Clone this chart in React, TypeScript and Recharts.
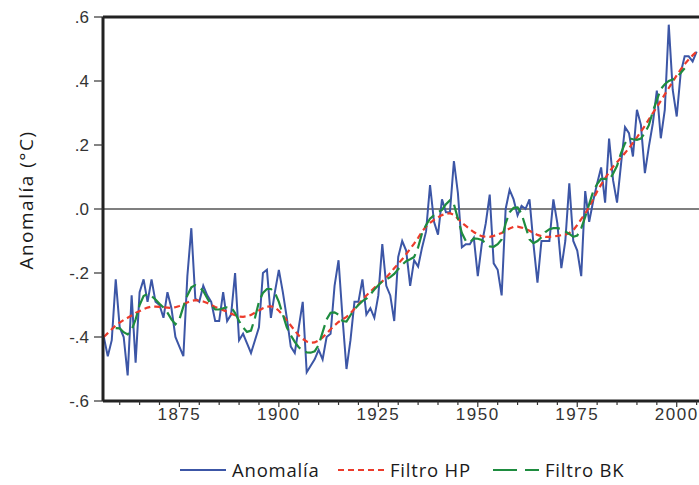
import { LineChart, Line, XAxis, YAxis, ReferenceLine, Legend, Label } from "recharts";

const START_YEAR = 1856;
const BK_START_YEAR = 1859;

// anomalía anual (°C), 1856-2005
const anomalia = [
  -0.40, -0.46, -0.41, -0.22, -0.37, -0.40, -0.52, -0.27, -0.48, -0.26,
  -0.22, -0.29, -0.22, -0.29, -0.30, -0.34, -0.26, -0.31, -0.40, -0.43,
  -0.46, -0.21, -0.06, -0.28, -0.29, -0.24, -0.27, -0.29, -0.35, -0.35,
  -0.26, -0.35, -0.33, -0.20, -0.41, -0.39, -0.42, -0.45, -0.41, -0.37,
  -0.20, -0.19, -0.34, -0.26, -0.19, -0.26, -0.34, -0.43, -0.45, -0.37,
  -0.29, -0.51, -0.49, -0.47, -0.44, -0.47, -0.40, -0.39, -0.24, -0.16,
  -0.34, -0.50, -0.41, -0.29, -0.29, -0.22, -0.33, -0.31, -0.34, -0.27,
  -0.11, -0.24, -0.27, -0.35, -0.15, -0.10, -0.13, -0.24, -0.16, -0.18,
  -0.12, -0.07, 0.075, -0.04, -0.08, 0.03, -0.01, -0.01, 0.15, 0.05,
  -0.12, -0.11, -0.11, -0.09, -0.21, -0.11, -0.045, 0.045, -0.17, -0.19,
  -0.27, 0.00, 0.06, 0.03, -0.02, 0.01, 0.00, 0.03, -0.11, -0.23,
  -0.10, -0.10, -0.10, 0.03, -0.045, -0.185, -0.10, 0.08, -0.10, -0.13,
  -0.21, 0.056, -0.04, 0.025, 0.08, 0.13, 0.02, 0.22, 0.09, 0.02,
  0.14, 0.256, 0.237, 0.164, 0.31, 0.263, 0.112, 0.195, 0.268, 0.37,
  0.221, 0.31, 0.576, 0.372, 0.289, 0.425, 0.477, 0.477, 0.461, 0.492,
];

// filtro Hodrick-Prescott, 1856-2005
const filtroHP = [
  -0.400, -0.388, -0.376, -0.364, -0.355, -0.347, -0.340, -0.333, -0.325, -0.319,
  -0.313, -0.308, -0.305, -0.305, -0.306, -0.307, -0.308, -0.309, -0.307, -0.303,
  -0.298, -0.292, -0.287, -0.285, -0.286, -0.289, -0.294, -0.300, -0.306, -0.311,
  -0.316, -0.321, -0.327, -0.332, -0.336, -0.337, -0.335, -0.331, -0.324, -0.317,
  -0.310, -0.305, -0.304, -0.308, -0.318, -0.332, -0.348, -0.364, -0.380, -0.395,
  -0.406, -0.414, -0.418, -0.417, -0.411, -0.401, -0.389, -0.376, -0.364, -0.353,
  -0.345, -0.337, -0.326, -0.312, -0.298, -0.284, -0.270, -0.258, -0.246, -0.236,
  -0.226, -0.214, -0.200, -0.185, -0.171, -0.157, -0.141, -0.125, -0.108, -0.090,
  -0.070, -0.055, -0.043, -0.034, -0.026, -0.019, -0.015, -0.013, -0.018, -0.030,
  -0.043, -0.053, -0.063, -0.072, -0.080, -0.085, -0.087, -0.087, -0.084, -0.080,
  -0.075, -0.068, -0.061, -0.056, -0.055, -0.058, -0.062, -0.068, -0.075, -0.081,
  -0.085, -0.087, -0.087, -0.086, -0.084, -0.082, -0.080, -0.075, -0.066, -0.050,
  -0.032, -0.014, 0.007, 0.030, 0.055, 0.076, 0.096, 0.115, 0.132, 0.146,
  0.160, 0.175, 0.190, 0.207, 0.224, 0.242, 0.260, 0.280, 0.300, 0.318,
  0.338, 0.358, 0.378, 0.398, 0.418, 0.436, 0.453, 0.467, 0.480, 0.492,
];

// filtro Baxter-King, 1859-2002 (pierde los extremos)
const filtroBK = [
  -0.372, -0.373, -0.385, -0.392, -0.378, -0.345, -0.300, -0.272, -0.265, -0.272,
  -0.283, -0.296, -0.308, -0.324, -0.345, -0.360, -0.345, -0.305, -0.270, -0.245,
  -0.238, -0.244, -0.256, -0.279, -0.300, -0.314, -0.314, -0.310, -0.307, -0.307,
  -0.325, -0.350, -0.370, -0.384, -0.380, -0.340, -0.290, -0.262, -0.250, -0.250,
  -0.262, -0.290, -0.330, -0.370, -0.395, -0.415, -0.432, -0.442, -0.448, -0.449,
  -0.445, -0.425, -0.385, -0.345, -0.324, -0.323, -0.330, -0.350, -0.352, -0.332,
  -0.313, -0.300, -0.288, -0.280, -0.267, -0.252, -0.238, -0.226, -0.220, -0.213,
  -0.203, -0.188, -0.174, -0.163, -0.157, -0.150, -0.120, -0.075, -0.050, -0.030,
  -0.019, -0.010, -0.003, 0.015, 0.027, 0.015, -0.030, -0.075, -0.100, -0.105,
  -0.092, -0.093, -0.097, -0.107, -0.117, -0.118, -0.110, -0.095, -0.045, -0.010,
  0.004, 0.005, -0.015, -0.055, -0.095, -0.107, -0.100, -0.088, -0.072, -0.063,
  -0.060, -0.060, -0.062, -0.070, -0.078, -0.087, -0.083, -0.060, -0.025, 0.015,
  0.055, 0.078, 0.094, 0.094, 0.090, 0.110, 0.135, 0.175, 0.205, 0.221,
  0.218, 0.216, 0.220, 0.238, 0.262, 0.305, 0.340, 0.375, 0.390, 0.400,
  0.405, 0.412, 0.425, 0.440,
];

const xTicks = [
  1860, 1865, 1870, 1875, 1880, 1885, 1890, 1895, 1900, 1905, 1910, 1915,
  1920, 1925, 1930, 1935, 1940, 1945, 1950, 1955, 1960, 1965, 1970, 1975,
  1980, 1985, 1990, 1995, 2000, 2005,
];
const yTicks = [-0.6, -0.4, -0.2, 0, 0.2, 0.4, 0.6];

const BLUE = "#3c56a6";
const RED = "#ec3b2b";
const GREEN = "#1e8c3f";
const AXIS = "#222";
const TICK_FONT = "'Liberation Sans', Arial, sans-serif";
const LABEL_FONT = "'Open Sans', 'Noto Sans', sans-serif";

const data = anomalia.map((v, i) => {
  const year = START_YEAR + i;
  const k = year - BK_START_YEAR;
  return {
    year,
    anom: v,
    hp: filtroHP[i],
    bk: k >= 0 && k < filtroBK.length ? filtroBK[k] : null,
  };
});

const fmtY = (v: number) => v.toFixed(1).replace("0.", ".");

function YearTick(props: any) {
  const { x, y, payload } = props;
  const major = payload.value % 25 === 0;
  return (
    <g>
      <line x1={x} x2={x} y1={y} y2={y + (major ? 6 : 4)} stroke="#333" strokeWidth={1.2} />
      {major && (
        <text x={x} y={y + 19} textAnchor="middle" fill="#333" fontSize={17}
          fontFamily={TICK_FONT} letterSpacing={1.5}>
          {payload.value}
        </text>
      )}
    </g>
  );
}

const renderYLabel = () => (
  <text x={0} y={0} transform="translate(33, 200) rotate(-90)" textAnchor="middle"
    fill="#1a1a1a" fontSize={19} fontFamily={LABEL_FONT} letterSpacing={1.5}>
    Anomalía (°C)
  </text>
);

const renderLegend = () => {
  const items = [
    { label: "Anomalía", color: BLUE, dash: undefined, x: 180 },
    { label: "Filtro HP", color: RED, dash: "6 4", x: 338 },
    { label: "Filtro BK", color: GREEN, dash: "24 8", x: 493 },
  ];
  return (
    <svg width={699} height={50} style={{ display: "block" }}>
      {items.map((it) => (
        <g key={it.label}>
          <line x1={it.x} x2={it.x + 46} y1={35} y2={35} stroke={it.color}
            strokeWidth={2} strokeDasharray={it.dash} />
          <text x={it.x + 52} y={42} fill="#1a1a1a" fontSize={18.5} fontFamily={LABEL_FONT}
            letterSpacing={0.8}>
            {it.label}
          </text>
        </g>
      ))}
    </svg>
  );
};

export default function App() {
  return (
    <div style={{ position: "absolute", left: 0, top: 0, width: 699, height: 485, background: "#fff" }}>
      <LineChart width={699} height={485} data={data}
        margin={{ top: 17, right: 0, bottom: 0, left: 0 }}>
        <XAxis dataKey="year" type="number" scale="linear" domain={[1855.8, 2005.6]}
          allowDataOverflow ticks={xTicks} interval={0} height={34}
          tickSize={0} tickMargin={0} tick={<YearTick />}
          axisLine={{ stroke: AXIS, strokeWidth: 3 }} tickLine={false} />
        <YAxis type="number" domain={[-0.6, 0.6]} ticks={yTicks} interval={0} width={103}
          allowDataOverflow tickFormatter={fmtY} tickSize={9} tickMargin={5}
          tick={{ fill: "#333", fontSize: 17, fontFamily: TICK_FONT }}
          tickLine={{ stroke: "#333", strokeWidth: 1.2 }}
          axisLine={{ stroke: AXIS, strokeWidth: 3 }}>
          <Label content={renderYLabel} />
        </YAxis>
        <ReferenceLine y={0.6} stroke={AXIS} strokeWidth={3} />
        <ReferenceLine y={0} stroke="#000" strokeWidth={1.2} />
        <Line type="linear" dataKey="anom" stroke={BLUE} strokeWidth={2} dot={false}
          activeDot={false} isAnimationActive={false} />
        <Line type="linear" dataKey="hp" stroke={RED} strokeWidth={2.2} strokeDasharray="6 4"
          dot={false} activeDot={false} isAnimationActive={false} />
        <Line type="linear" dataKey="bk" stroke={GREEN} strokeWidth={2.2} strokeDasharray="16 6"
          dot={false} activeDot={false} isAnimationActive={false} />
        <Legend verticalAlign="bottom" content={renderLegend}
          wrapperStyle={{ left: 0, bottom: 0, width: 699, height: 50 }} />
      </LineChart>
    </div>
  );
}
